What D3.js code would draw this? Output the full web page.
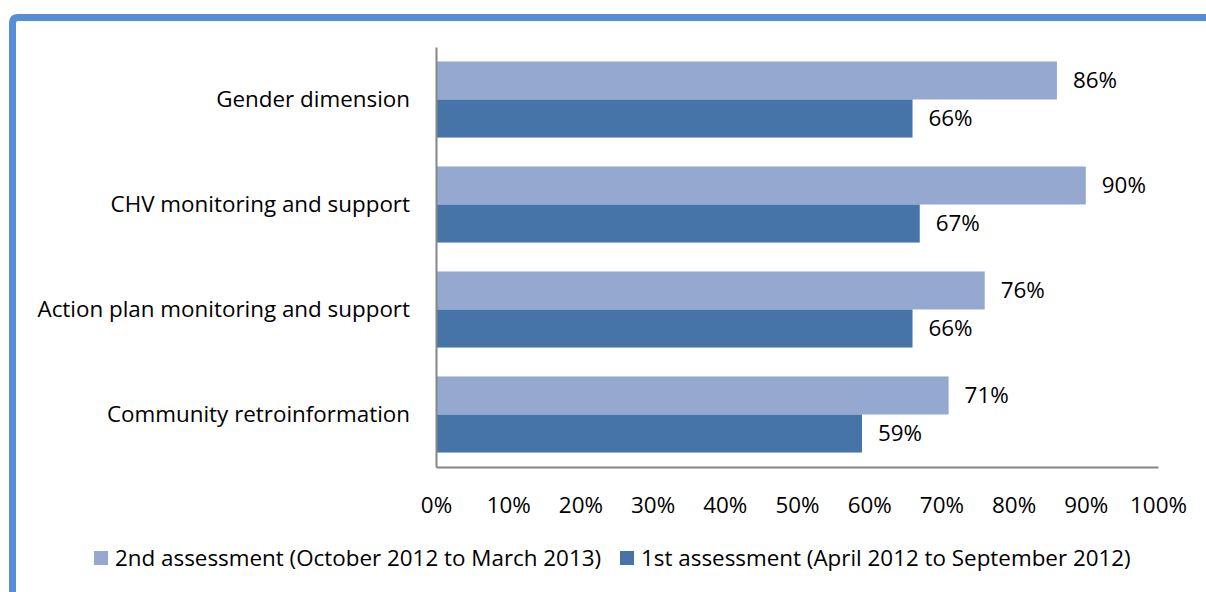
<!DOCTYPE html>
<html>
<head>
<meta charset="utf-8">
<script src="https://cdn.jsdelivr.net/npm/d3@7"></script>
<style>
  body { margin: 0; background: #fff; }
  text { font-family: "Open Sans", "Noto Sans", sans-serif; fill: #000; }
</style>
</head>
<body>
<div id="chart"></div>
<script>
// data
const categories = ["Gender dimension", "CHV monitoring and support", "Action plan monitoring and support", "Community retroinformation"];
const secondAssessment = [86, 90, 76, 71];
const firstAssessment = [66, 67, 66, 59];
const seriesNames = ["2nd assessment (October 2012 to March 2013)", "1st assessment (April 2012 to September 2012)"];
const seriesColors = ["#95a9d0", "#4674a8"];
const xTicks = [0, 10, 20, 30, 40, 50, 60, 70, 80, 90, 100];

const svgWidth = 1206, svgHeight = 592;
const margin = {left: 436, top: 47, right: 48, bottom: 125};
const width = svgWidth - margin.left - margin.right;
const height = svgHeight - margin.top - margin.bottom;
const fontSize = '22.4px';

let svg = d3.select('#chart')
    .append('svg')
    .attr('width', svgWidth)
    .attr('height', svgHeight);

// blue frame on top and left
svg.append('path')
    .attr('d', `M12.5,${svgHeight + 10} L12.5,23 Q12.5,17.5 18,17.5 L${svgWidth + 10},17.5`)
    .attr('fill', 'none')
    .attr('stroke', '#558ed5')
    .attr('stroke-width', 7);

let chart = svg.append('g')
    .attr('transform', `translate(${margin.left},${margin.top})`);

// scales
let xScale = d3.scaleLinear()
    .domain([0, 100])
    .range([0, width]);

let yScale = d3.scaleBand()
    .domain(categories)
    .range([0, height]);

let inner = d3.scaleBand()
    .domain([0, 1])
    .range([0, yScale.bandwidth()])
    .paddingOuter(0.38)
    .paddingInner(0);

const series = [secondAssessment, firstAssessment];

series.forEach((vals, si) => {
    let rows = categories.map((c, i) => ({cat: c, v: vals[i]}));
    chart.selectAll('.bar' + si)
        .data(rows)
        .join('rect')
        .attr('class', 'bar' + si)
        .attr('x', 0)
        .attr('y', d => yScale(d.cat) + inner(si))
        .attr('width', d => xScale(d.v))
        .attr('height', inner.bandwidth())
        .attr('fill', seriesColors[si]);

    chart.selectAll('.lbl' + si)
        .data(rows)
        .join('text')
        .attr('class', 'lbl' + si)
        .attr('x', d => xScale(d.v) + 16)
        .attr('y', d => yScale(d.cat) + inner(si) + inner.bandwidth() / 2)
        .attr('dy', '0.35em')
        .style('font-size', fontSize)
        .text(d => d.v + '%');
});

// x axis
let xAxis = chart.append('g')
    .attr('transform', `translate(0,${height})`)
    .call(d3.axisBottom(xScale).tickValues(xTicks).tickSize(0).tickPadding(30).tickFormat(d => d + '%'));
xAxis.select('.domain').attr('stroke', '#868686').attr('stroke-width', 2);
xAxis.selectAll('text').style('font-size', fontSize).style('font-family', null);

// y axis
let yAxis = chart.append('g')
    .call(d3.axisLeft(yScale).tickSize(0).tickPadding(26));
yAxis.select('.domain').attr('stroke', '#868686').attr('stroke-width', 2);
yAxis.selectAll('text').style('font-size', fontSize).style('font-family', null);

// legend
let legendX = [94, 620];
let legend = svg.append('g');
seriesNames.forEach((name, i) => {
    legend.append('rect')
        .attr('x', legendX[i])
        .attr('y', 551)
        .attr('width', 14)
        .attr('height', 14)
        .attr('fill', seriesColors[i]);
    legend.append('text')
        .attr('x', legendX[i] + 21)
        .attr('y', 558)
        .attr('dy', '0.35em')
        .style('font-size', fontSize)
        .text(name);
});
</script>
</body>
</html>
